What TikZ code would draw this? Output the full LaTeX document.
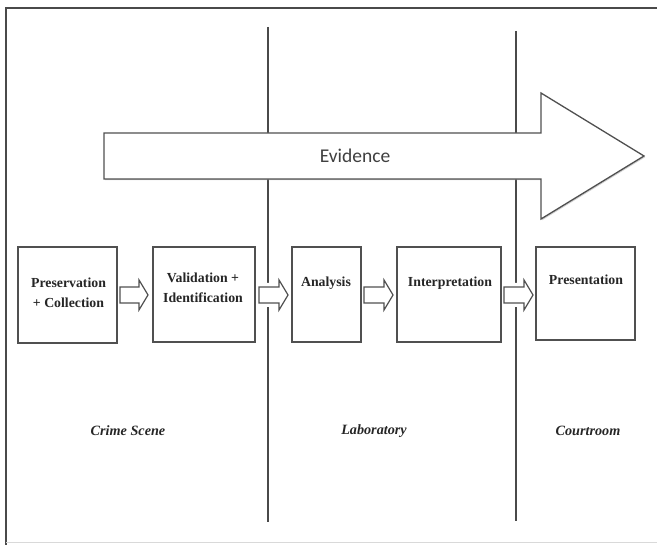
\documentclass[tikz,border=0pt]{standalone}
\usepackage{fontspec}
\setmainfont{Liberation Serif}
\newfontfamily\evfont{Carlito}
\usetikzlibrary{shadows,calc}
\definecolor{ln}{HTML}{4A4A4A}
\definecolor{bd}{HTML}{505050}
\newcommand\blockarrow[3]{% start x, end x, centre y
  \draw[sarrow] (#1,#3-8) -- (#2-9,#3-8) -- (#2-9,#3-15) -- (#2,#3) -- (#2-9,#3+15) -- (#2-9,#3+8) -- (#1,#3+8) -- cycle;}
\begin{document}
\begin{tikzpicture}[x=1pt,y=-1pt,
  box/.style={draw=bd,line width=1.3pt,fill=white,inner sep=0pt,
    drop shadow={shadow xshift=1.2pt,shadow yshift=-1.2pt,fill=gray!60,opacity=.6}},
  sarrow/.style={draw=bd,line width=1.2pt,fill=white,line join=miter,
    preaction={draw=white,line width=8pt}},
  lbl/.style={font=\fontsize{13.8}{20}\selectfont\bfseries,text=black!85,align=center,inner sep=0pt},
  place/.style={font=\fontsize{14.2}{16}\selectfont\bfseries\itshape,text=black!85,inner sep=0pt},
  vline/.style={draw=ln,line width=1.3pt}]
\useasboundingbox (0,0) rectangle (657,545);
% frame
\draw[ln,line width=1.6pt] (6,545) -- (6,8) -- (657,8);
\draw[gray!30,line width=1pt] (6,543) -- (657,543);
% vertical separators
\coordinate (l1t) at (268,27); \coordinate (l1b) at (268,522);
\coordinate (l2t) at (516,31); \coordinate (l2b) at (516,521);
\draw[vline] (l1t) -- (l1b);
\draw[vline] (l2t) -- (l2b);
% evidence arrow
\draw[draw=bd,line width=1.3pt,fill=white,
  drop shadow={shadow xshift=1.2pt,shadow yshift=-1.2pt,fill=gray!60,opacity=.6}]
  (104,133) -- (541,133) -- (541,93) -- (644,156) -- (541,219) -- (541,179) -- (104,179) -- cycle;
\node[font=\fontsize{19.5}{22}\evfont,text=black!75,inner sep=0pt] (ev) at (355,156) {Evidence};
% small block arrows
\blockarrow{120}{148}{295}
\blockarrow{259}{288}{295}
\blockarrow{364}{393}{295}
\blockarrow{504}{533}{295}
% boxes
\node[box,minimum width=99pt,minimum height=96pt] (b1) at (67.5,295) {};
\node[box,minimum width=102pt,minimum height=95pt] (b2) at (204,294.5) {};
\node[box,minimum width=69pt,minimum height=95pt] (b3) at (326.5,294.5) {};
\node[box,minimum width=104pt,minimum height=95pt] (b4) at (449,294.5) {};
\node[box,minimum width=99pt,minimum height=93pt] (b5) at (585.5,293.5) {};
% box texts
\node[lbl] (t1) at (68.5,293) {Preservation\\+ Collection};
\node[lbl] (t2) at (203,287.5) {Validation +\\Identification};
\node[lbl] (t3) at (326,283) {Analysis};
\node[lbl] (t4) at (450,283) {Interpretation};
\node[lbl] (t5) at (586,280) {Presentation};
% place labels
\node[place] (p1) at (128,431) {Crime Scene};
\node[place] (p2) at (374,431) {Laboratory};
\node[place] (p3) at (588,431) {Courtroom};
\end{tikzpicture}
\end{document}
